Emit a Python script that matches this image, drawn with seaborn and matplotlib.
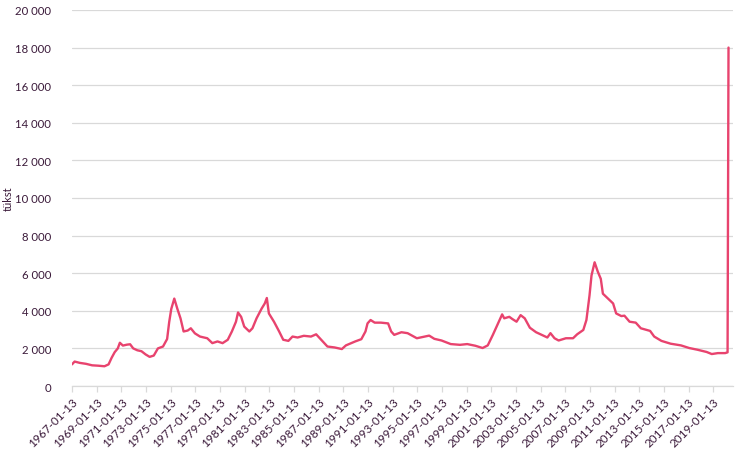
import pandas as pd
import numpy as np
import matplotlib
matplotlib.use('Agg')
import matplotlib.pyplot as plt
import matplotlib.ticker as mticker
import seaborn as sns

# andmed (loetud pildilt, tuhandetes) --------------------------------
dates = [
    '1967-01-13', '1967-04-01', '1967-09-01', '1968-03-01', '1968-09-01', '1969-03-01', '1969-09-01',
    '1970-01-01', '1970-04-01', '1970-07-01', '1970-10-01', '1970-12-01', '1971-03-01', '1971-07-01',
    '1971-10-01', '1972-01-01', '1972-05-01', '1972-09-01', '1973-01-01', '1973-05-01', '1973-09-01',
    '1974-01-01', '1974-06-01', '1974-10-01', '1974-12-01', '1975-02-01', '1975-05-01', '1975-08-01',
    '1975-11-01', '1976-02-01', '1976-06-01', '1976-09-01', '1977-01-01', '1977-06-01', '1978-01-01',
    '1978-06-01', '1978-11-01', '1979-04-01', '1979-09-01', '1980-01-01', '1980-05-01', '1980-07-01',
    '1980-10-01', '1981-01-01', '1981-06-01', '1981-09-01', '1982-01-01', '1982-06-01', '1982-09-01',
    '1982-11-01', '1983-01-01', '1983-06-01', '1983-11-01', '1984-03-01', '1984-08-01', '1984-12-01',
    '1985-05-01', '1985-11-01', '1986-06-01', '1986-11-01', '1987-04-01', '1987-10-01', '1988-05-01',
    '1988-12-01', '1989-04-01', '1990-01-01', '1990-07-01', '1990-11-01', '1991-01-01', '1991-04-01',
    '1991-08-01', '1992-02-01', '1992-09-01', '1992-12-01', '1993-03-01', '1993-10-01', '1994-04-01',
    '1995-01-01', '1996-01-01', '1996-06-01', '1997-01-01', '1997-10-01', '1998-07-01', '1999-02-01',
    '1999-10-01', '2000-05-01', '2000-10-01', '2001-03-01', '2001-08-01', '2001-12-01', '2002-02-01',
    '2002-07-01', '2002-10-01', '2003-02-01', '2003-06-01', '2003-10-01', '2004-03-01', '2004-09-01',
    '2005-04-01', '2005-08-01', '2005-11-01', '2006-03-01', '2006-07-01', '2007-02-01', '2007-09-01',
    '2008-01-01', '2008-07-01', '2008-10-01', '2009-01-01', '2009-03-01', '2009-06-01', '2009-09-01',
    '2009-12-01', '2010-02-01', '2010-07-01', '2010-12-01', '2011-03-01', '2011-08-01', '2011-11-01',
    '2012-04-01', '2012-10-01', '2013-03-01', '2013-12-01', '2014-04-01', '2014-11-01', '2015-08-01',
    '2016-06-01', '2017-02-01', '2017-10-01', '2018-07-01', '2018-12-01', '2019-06-01', '2020-01-01',
    '2020-03-13', '2020-04-10',
]
claims = [
    1150, 1300, 1230, 1180, 1100, 1080, 1050,
    1150, 1500, 1800, 2000, 2300, 2150, 2200,
    2220, 2000, 1900, 1850, 1680, 1550, 1620,
    2000, 2100, 2500, 3400, 4100, 4650, 4100,
    3600, 2900, 2950, 3070, 2800, 2630, 2540,
    2280, 2370, 2280, 2460, 2900, 3420, 3910,
    3680, 3160, 2900, 3070, 3600, 4120, 4390,
    4680, 3860, 3420, 2900, 2460, 2400, 2630,
    2580, 2670, 2630, 2750, 2460, 2100, 2050,
    1965, 2160, 2370, 2490, 2900, 3330, 3510,
    3370, 3370, 3330, 2900, 2720, 2860, 2810,
    2540, 2680, 2510, 2420, 2230, 2190, 2230,
    2140, 2020, 2160, 2720, 3330, 3810, 3600,
    3680, 3560, 3420, 3770, 3600, 3100, 2860,
    2680, 2580, 2810, 2540, 2420, 2540, 2540,
    2750, 2980, 3510, 4820, 5880, 6580, 6090,
    5700, 4910, 4650, 4390, 3860, 3720, 3740,
    3420, 3370, 3070, 2930, 2630, 2400, 2250,
    2160, 2020, 1930, 1810, 1700, 1750, 1750,
    1790, 18000,
]
tick_labels = [f'{y}-01-13' for y in range(1967, 2020, 2)]
y_ticks = [0, 2000, 4000, 6000, 8000, 10000, 12000, 14000, 16000, 18000, 20000]

df = pd.DataFrame({'date': pd.to_datetime(dates), 'value': claims})

# joonis --------------------------------
sns.set_theme(style='white')
plt.rcParams['font.family'] = ['Lato', 'DejaVu Sans']

text_color = '#3b1a3a'
grid_color = '#d9d9d9'

fig = plt.figure(figsize=(7.53, 4.52), dpi=100)
ax = fig.add_axes([0.0956, 0.1438, 0.8778, 0.8319])

sns.lineplot(data=df, x='date', y='value', ax=ax, color='#E8436E', linewidth=1.7)

ax.set_ylim(0, 20000)
ax.set_yticks(y_ticks)
ax.yaxis.set_major_formatter(mticker.FuncFormatter(lambda v, p: f'{int(v):,}'.replace(',', ' ')))
ax.set_xlim(pd.Timestamp('1967-01-13'), pd.Timestamp('2020-08-20'))
ax.set_xticks(pd.to_datetime(tick_labels))
ax.set_xticklabels(tick_labels, rotation=45, ha='right', rotation_mode='anchor')

ax.grid(axis='y', color=grid_color, linewidth=0.9)
ax.grid(axis='x', visible=False)
for s in ['top', 'right', 'left']:
    ax.spines[s].set_visible(False)
ax.spines['bottom'].set_color(grid_color)
ax.spines['bottom'].set_linewidth(0.9)

ax.tick_params(axis='x', bottom=True, length=4, width=0.9, color=grid_color,
               labelsize=8.5, labelcolor=text_color, pad=3)
ax.tick_params(axis='y', left=False, labelsize=8.2, labelcolor=text_color, pad=9)

ax.set_xlabel('')
ax.set_ylabel('tükst', fontsize=8, color=text_color, va='center')
ax.yaxis.set_label_coords(-0.097, 0.5)

fig.savefig('out.png', dpi=100)
